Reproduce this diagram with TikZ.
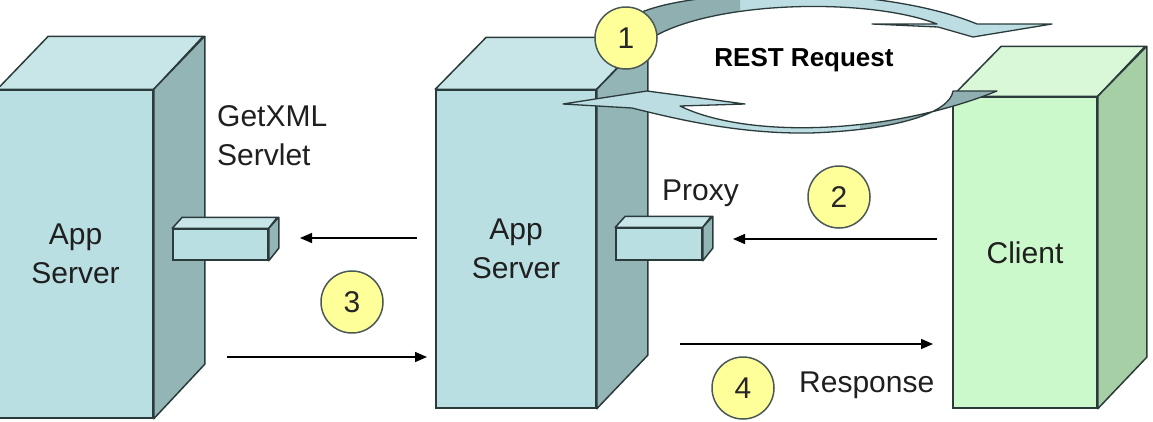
\documentclass[tikz,border=0pt]{standalone}
\usepackage{fontspec}
\setmainfont{Liberation Sans}
\usetikzlibrary{arrows.meta,positioning}
\definecolor{edge}{HTML}{2B3A3A}
\definecolor{tealfront}{HTML}{BADFE2}
\definecolor{tealtop}{HTML}{C8E6E8}
\definecolor{tealside}{HTML}{94B5B6}
\definecolor{greenfront}{HTML}{CCF9CC}
\definecolor{greentop}{HTML}{D8F8D8}
\definecolor{greenside}{HTML}{A6CFA6}
\definecolor{ribbonlt}{HTML}{BCDDE1}
\definecolor{ribbondk}{HTML}{8FAFB0}
\definecolor{numfill}{HTML}{FFFF99}

\begin{document}
\begin{tikzpicture}[x=1pt,y=-1pt,font=\fontsize{30}{39}\selectfont,
  front/.style={draw=edge,line width=1.5pt,fill=tealfront,inner sep=0pt,align=center,text=black!88},
  topf/.style={draw=edge,line width=1.5pt,fill=tealtop,line join=round},
  sidef/.style={draw=edge,line width=1.5pt,fill=tealside,line join=round},
  num/.style={circle,draw=edge!85,line width=1.5pt,fill=numfill,minimum size=62pt,inner sep=0pt,text=black!85},
  lbl/.style={inner sep=0pt,align=left,text=black!88},
  arr/.style={-{Triangle[length=12pt,width=10pt]},line width=1.5pt},
  ribbon/.style={draw=edge,line width=1.3pt,line join=round}]

\clip (0,0) rectangle (1153,421);

\node[front,minimum width=155pt,minimum height=328pt] (srvL) at (75.5,254) {App\\Server};
\draw[topf] (srvL.north west) -- ++(51,-53) -- ++(155,0) -- (srvL.north east) -- cycle;
\draw[sidef] (srvL.north east) -- ++(51,-53) -- ++(0,328) -- (srvL.south east) -- cycle;
\node[front,minimum width=95pt,minimum height=31pt] (getxml) at (220.5,244.5) {};
\draw[topf] (getxml.north west) -- ++(10,-11) -- ++(95,0) -- (getxml.north east) -- cycle;
\draw[sidef] (getxml.north east) -- ++(10,-11) -- ++(0,31) -- (getxml.south east) -- cycle;

\node[front,minimum width=160pt,minimum height=318pt] (srvC) at (516,249) {App\\Server};
\draw[topf] (srvC.north west) -- ++(51,-52) -- ++(160,0) -- (srvC.north east) -- cycle;
\draw[sidef] (srvC.north east) -- ++(51,-52) -- ++(0,318) -- (srvC.south east) -- cycle;
\node[front,minimum width=86pt,minimum height=32pt] (proxy) at (659,244) {};
\draw[topf] (proxy.north west) -- ++(10,-11) -- ++(86,0) -- (proxy.north east) -- cycle;
\draw[sidef] (proxy.north east) -- ++(10,-11) -- ++(0,32) -- (proxy.south east) -- cycle;

\node[front,fill=greenfront,minimum width=144pt,minimum height=311pt] (client) at (1025,252.5) {Client};
\draw[topf,fill=greentop] (client.north west) -- ++(49,-50) -- ++(144,0) -- (client.north east) -- cycle;
\draw[sidef,fill=greenside] (client.north east) -- ++(49,-50) -- ++(0,311) -- (client.south east) -- cycle;

\node[lbl,anchor=base west] (lblget) at (217,165) {GetXML\\Servlet};
\node[lbl,anchor=base west] (lblproxy) at (662,200) {Proxy};
\node[lbl,anchor=base west] (lblresp) at (799,392) {Response};

\def\toprib{(642,12) .. controls (700,-12) and (880,-16) .. (977,24) -- (1052,24) -- (973,37)
  -- (938,27) -- (872,24) -- (937,24) .. controls (870,-2) and (720,0) .. (655,36) -- cycle}
\def\lowrib{(563,104) -- (647,91) -- (745,104) -- (680,106) .. controls (745,138) and (885,136) .. (997,91)
  -- (953,91) .. controls (950,112) and (900,130) .. (810,133) .. controls (740,134) and (680,120) .. (632,108) -- cycle}
\fill[ribbonlt] \toprib;
\begin{scope} \clip (600,-20) rectangle (740,60); \fill[ribbondk] \toprib; \end{scope}
\draw[ribbon] \toprib;
\fill[ribbonlt] \lowrib;
\begin{scope} \clip (860,80) rectangle (1010,140); \fill[ribbondk] \lowrib; \end{scope}
\draw[ribbon] \lowrib;
\node[font=\fontsize{26}{30}\selectfont\bfseries] (rest) at (804,60) {REST Request};

\coordinate (g3) at (417,238); \coordinate (g3e) at (300,238);
\coordinate (r3) at (227,357); \coordinate (r3e) at (427,357);
\coordinate (c2) at (937,239); \coordinate (c2e) at (733,239);
\coordinate (s4) at (680,344); \coordinate (s4e) at (933,344);
\draw[arr] (g3) -- (g3e); \draw[arr] (r3) -- (r3e);
\draw[arr] (c2) -- (c2e); \draw[arr] (s4) -- (s4e);

\node[num] (n1) at (626,38) {1};
\node[num] (n2) at (839,197) {2};
\node[num] (n3) at (352,302) {3};
\node[num] (n4) at (743,388) {4};
\end{tikzpicture}
\end{document}
